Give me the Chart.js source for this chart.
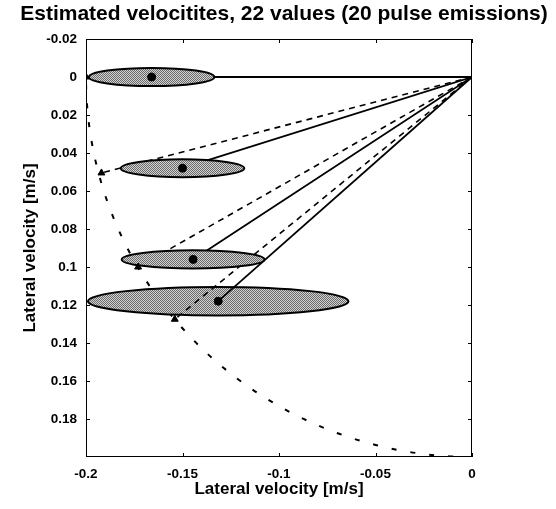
<!DOCTYPE html>
<html>
<head>
<meta charset="utf-8">
<script src="https://cdn.jsdelivr.net/npm/chart.js@4.4.1/dist/chart.umd.min.js"></script>
<style>
  html, body { margin: 0; padding: 0; background: #fff; }
  #wrap { width: 556px; height: 509px; }
</style>
</head>
<body>
<div id="wrap"><canvas id="chart"></canvas></div>
<script>
// estimated mean velocities (centre of each spread ellipse)
const meanX = [-0.166, -0.150, -0.1445, -0.1315];
const meanY = [0, 0.048, 0.096, 0.118];
// half widths of the spread ellipses
const spreadX = [0.0325, 0.032, 0.037, 0.0675];
const spreadY = [0.0048, 0.0047, 0.0048, 0.0075];
// true velocities, they sit on the circle
const trueX = [-0.2, -0.192, -0.173, -0.154];
const trueY = [0, 0.0505, 0.1, 0.1275];
const trueSpeed = 0.2;

const xTicks = [-0.2, -0.15, -0.1, -0.05, 0];
const xTickLabels = ['-0.2', '-0.15', '-0.1', '-0.05', '0'];
const yTicks = [-0.02, 0, 0.02, 0.04, 0.06, 0.08, 0.1, 0.12, 0.14, 0.16, 0.18];
const yTickLabels = ['-0.02', '0', '0.02', '0.04', '0.06', '0.08', '0.1', '0.12', '0.14', '0.16', '0.18'];

const titleText = 'Estimated velocitites, 22 values (20 pulse emissions)';
const axisText = 'Lateral velocity [m/s]';

// grey dotted fill like the printed halftone
function makeHalftone(ctx) {
    let c = document.createElement('canvas');
    c.width = 2; c.height = 2;
    let g = c.getContext('2d');
    g.fillStyle = '#d2d2d2'; g.fillRect(0, 0, 2, 2);
    g.fillStyle = '#6a6a6a'; g.fillRect(0, 0, 1, 1); g.fillRect(1, 1, 1, 1);
    return ctx.createPattern(c, 'repeat');
}

function drawEllipse(chart, i) {
    let ctx = chart.ctx, xs = chart.scales.x, ys = chart.scales.y;
    let cx = xs.getPixelForValue(meanX[i]);
    let cy = ys.getPixelForValue(meanY[i]);
    let rx = Math.abs(xs.getPixelForValue(meanX[i] + spreadX[i]) - cx);
    let ry = Math.abs(ys.getPixelForValue(meanY[i] + spreadY[i]) - cy);
    ctx.save();
    ctx.beginPath();
    ctx.ellipse(cx, cy, rx, ry, 0, 0, Math.PI * 2);
    ctx.fillStyle = makeHalftone(ctx);
    ctx.fill();
    ctx.lineWidth = 2;
    ctx.strokeStyle = '#000';
    ctx.stroke();
    ctx.restore();
}

const velocityPlugin = {
    id: 'velocity',
    beforeDatasetsDraw(chart) {
        let ctx = chart.ctx, a = chart.chartArea;
        let xs = chart.scales.x, ys = chart.scales.y;
        ctx.save();
        ctx.beginPath();
        ctx.rect(a.left, a.top, a.right - a.left, a.bottom - a.top);
        ctx.clip();
        // circle of the true speed, dashed
        let ox = xs.getPixelForValue(0), oy = ys.getPixelForValue(0);
        let rx = Math.abs(xs.getPixelForValue(-trueSpeed) - ox);
        let ry = Math.abs(ys.getPixelForValue(trueSpeed) - oy);
        ctx.beginPath();
        ctx.ellipse(ox, oy, rx, ry, 0, Math.PI / 2, Math.PI);
        ctx.setLineDash([5, 14]);
        ctx.lineWidth = 2;
        ctx.strokeStyle = '#000';
        ctx.stroke();
        ctx.setLineDash([]);
        // widest ellipse lies under the lines
        drawEllipse(chart, 3);
        ctx.restore();
    },
    beforeDatasetDraw(chart, args) {
        // the other ellipses cover the lines but not the markers
        if (args.index !== 1) return;
        let a = chart.chartArea, ctx = chart.ctx;
        ctx.save();
        ctx.beginPath();
        ctx.rect(a.left, a.top, a.right - a.left, a.bottom - a.top);
        ctx.clip();
        for (let i = 0; i < 3; i++) drawEllipse(chart, i);
        ctx.restore();
    },
    afterDraw(chart) {
        let ctx = chart.ctx, a = chart.chartArea;
        let xs = chart.scales.x, ys = chart.scales.y;
        ctx.save();
        ctx.strokeStyle = '#000';
        ctx.lineWidth = 1;
        ctx.strokeRect(a.left + 0.5, a.top + 0.5, a.right - a.left - 1, a.bottom - a.top - 1);
        // inward ticks on all four sides
        ctx.beginPath();
        xTicks.forEach(function(v) {
            let px = Math.round(xs.getPixelForValue(v)) + 0.5;
            ctx.moveTo(px, a.bottom); ctx.lineTo(px, a.bottom - 4);
            ctx.moveTo(px, a.top); ctx.lineTo(px, a.top + 4);
        });
        yTicks.forEach(function(v) {
            let py = Math.round(ys.getPixelForValue(v)) + 0.5;
            ctx.moveTo(a.left, py); ctx.lineTo(a.left + 4, py);
            ctx.moveTo(a.right, py); ctx.lineTo(a.right - 4, py);
        });
        ctx.stroke();
        // title
        ctx.fillStyle = '#000';
        ctx.font = 'bold 21px "Liberation Sans", Arial, sans-serif';
        ctx.textAlign = 'center';
        ctx.textBaseline = 'middle';
        ctx.fillText(titleText, 284, 14);
        ctx.restore();
    }
};

let datasets = [];
// dataset 0: estimated means
datasets.push({
    data: meanX.map(function(x, i) { return { x: x, y: meanY[i] }; }),
    pointRadius: 4, pointBackgroundColor: '#000', pointBorderColor: '#000', showLine: false
});
// dataset 1: true velocities
datasets.push({
    data: trueX.map(function(x, i) { return { x: x, y: trueY[i] }; }),
    pointStyle: 'triangle', pointRadius: 4, pointBackgroundColor: '#000', pointBorderColor: '#000', showLine: false
});
// solid lines from origin to the estimates, dashed to the true values
for (let i = 0; i < meanX.length; i++) {
    datasets.push({
        data: [{ x: 0, y: 0 }, { x: meanX[i], y: meanY[i] }],
        showLine: true, pointRadius: 0, borderColor: '#000', borderWidth: 1.8
    });
    datasets.push({
        data: [{ x: 0, y: 0 }, { x: trueX[i], y: trueY[i] }],
        showLine: true, pointRadius: 0, borderColor: '#000', borderWidth: 1.6, borderDash: [6, 5]
    });
}

const tickFont = { family: '"Liberation Sans", Arial, sans-serif', size: 13.5, weight: 'bold' };
const labelFont = { family: '"Liberation Sans", Arial, sans-serif', size: 17, weight: 'bold' };

new Chart(document.getElementById('chart'), {
    type: 'scatter',
    data: { datasets: datasets },
    options: {
        responsive: true,
        maintainAspectRatio: false,
        animation: false,
        layout: { padding: { top: 39, left: 20, right: 84, bottom: 4 } },
        plugins: { legend: { display: false }, tooltip: { enabled: false } },
        scales: {
            x: {
                type: 'linear', min: -0.2, max: 0,
                afterBuildTicks: function(s) { s.ticks = xTicks.map(function(v) { return { value: v }; }); },
                afterFit: function(s) { s.height = 48; },
                ticks: { font: tickFont, color: '#000', padding: 9, maxRotation: 0,
                    callback: function(v, i) { return xTickLabels[i]; } },
                grid: { display: false, drawTicks: false },
                border: { display: false },
                title: { display: true, text: axisText, font: labelFont, color: '#000', padding: { top: 0, bottom: 5 } }
            },
            y: {
                type: 'linear', min: -0.02, max: 0.2, reverse: true,
                afterBuildTicks: function(s) { s.ticks = yTicks.map(function(v) { return { value: v }; }); },
                afterFit: function(s) { s.width = 66; },
                ticks: { font: tickFont, color: '#000', padding: 9,
                    callback: function(v, i) { return yTickLabels[i]; } },
                grid: { display: false, drawTicks: false },
                border: { display: false },
                title: { display: true, text: axisText, font: labelFont, color: '#000', padding: 0 }
            }
        }
    },
    plugins: [velocityPlugin]
});
</script>
</body>
</html>
